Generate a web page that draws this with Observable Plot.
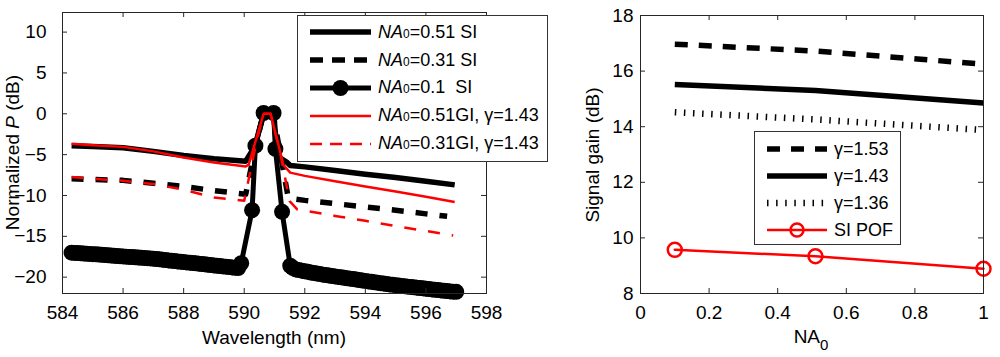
<!DOCTYPE html>
<html>
<head>
<meta charset="utf-8">
<script src="https://cdn.jsdelivr.net/npm/d3@7"></script>
<script src="https://cdn.jsdelivr.net/npm/@observablehq/plot@0.6"></script>
<style>
  html, body { margin: 0; padding: 0; background: #fff; }
  #wrap { position: relative; width: 1000px; height: 357px; overflow: hidden; font-family: 'Liberation Sans', Arial, sans-serif; }
  .panel { position: absolute; top: 0; }
  .legend { position: absolute; background: #fff; border: 1px solid #333; box-sizing: border-box; font-size: 18px; color: #000; }
  .row { display: flex; align-items: center; white-space: pre; }
  .row svg { flex: none; }
  sub.s { font-size: 12px; vertical-align: baseline; font-style: normal; }
</style>
</head>
<body>
<div id="wrap"></div>
<script>
// ---------- Left panel data: normalized power vs wavelength ----------
const xTicksL = [584, 586, 588, 590, 592, 594, 596, 598];
const yTicksL = [-20, -15, -10, -5, 0, 5, 10];

const wlSI051 = [584.3, 585, 586, 587, 588, 589, 590.05, 590.35, 590.64, 590.97, 591.1, 591.4, 591.52, 592, 593, 594, 595, 596, 596.95];
const pSI051  = [-3.9, -4.0, -4.15, -4.6, -5.1, -5.5, -5.8, -4.0, 0, 0, -5.2, -5.9, -6.33, -6.5, -6.95, -7.4, -7.8, -8.25, -8.7];

const wlSI031 = [584.3, 585, 586, 587, 588, 589, 590.05, 590.4, 590.64, 590.95, 591.15, 591.45, 591.7, 592, 593, 594, 595, 596, 596.7];
const pSI031  = [-7.95, -8.05, -8.15, -8.5, -8.9, -9.4, -9.85, -3.5, 0, 0, -4.0, -10.2, -10.45, -10.6, -11.0, -11.4, -11.8, -12.25, -12.55];

const wlSI01 = [
  584.3, 584.4, 584.5, 584.6, 584.7, 584.8, 584.9, 585.0, 585.1, 585.2, 585.3, 585.4, 585.5, 585.6, 585.7, 585.8, 585.9,
  586.0, 586.1, 586.2, 586.3, 586.4, 586.5, 586.6, 586.7, 586.8, 586.9, 587.0, 587.1, 587.2, 587.3, 587.4, 587.5, 587.6,
  587.7, 587.8, 587.9, 588.0, 588.1, 588.2, 588.3, 588.4, 588.5, 588.6, 588.7, 588.8, 588.9, 589.0, 589.1, 589.2, 589.3,
  589.4, 589.5, 589.6, 589.7, 589.8, 589.9,
  590.26, 590.37, 590.64, 590.97, 591.03, 591.25, 591.52,
  591.6, 591.7, 591.8, 591.9, 592.0, 592.1, 592.2, 592.3, 592.4, 592.5, 592.6, 592.7, 592.8, 592.9, 593.0, 593.1, 593.2,
  593.3, 593.4, 593.5, 593.6, 593.7, 593.8, 593.9, 594.0, 594.1, 594.2, 594.3, 594.4, 594.5, 594.6, 594.7, 594.8, 594.9,
  595.0, 595.1, 595.2, 595.3, 595.4, 595.5, 595.6, 595.7, 595.8, 595.9, 596.0, 596.1, 596.2, 596.3, 596.4, 596.5, 596.6,
  596.7, 596.8, 596.9, 597.0];
const pSI01 = [
  -17.0, -17.03, -17.05, -17.08, -17.1, -17.13, -17.16, -17.19, -17.21, -17.24, -17.27, -17.3, -17.32, -17.35, -17.38, -17.41, -17.43,
  -17.46, -17.49, -17.52, -17.54, -17.57, -17.6, -17.62, -17.65, -17.68, -17.7, -17.74, -17.78, -17.82, -17.86, -17.9, -17.95, -17.99,
  -18.03, -18.07, -18.11, -18.15, -18.19, -18.23, -18.27, -18.31, -18.35, -18.39, -18.43, -18.48, -18.52, -18.56, -18.6, -18.64, -18.68,
  -18.72, -18.77, -18.81, -18.85, -18.88, -18.3,
  -11.8, -3.9, 0.1, 0.1, -4.3, -12.0, -18.6,
  -18.85, -19.05, -19.12, -19.2, -19.28, -19.35, -19.43, -19.5, -19.56, -19.62, -19.69, -19.75, -19.8, -19.86, -19.91, -19.97, -20.02,
  -20.08, -20.13, -20.19, -20.24, -20.3, -20.35, -20.41, -20.46, -20.52, -20.57, -20.63, -20.68, -20.74, -20.79, -20.85, -20.89, -20.94,
  -20.98, -21.03, -21.07, -21.12, -21.16, -21.2, -21.25, -21.29, -21.33, -21.37, -21.42, -21.46, -21.5, -21.54, -21.58, -21.62, -21.66,
  -21.7, -21.74, -21.78, -21.8];

const wlGI051 = [584.3, 585, 586, 587, 588, 589, 590.05, 590.15, 590.64, 590.87, 591.3, 591.52, 592, 593, 594, 595, 596, 596.95];
const pGI051  = [-3.66, -3.85, -4.05, -4.6, -5.35, -5.95, -6.45, -6.2, 0, 0, -6.3, -7.2, -7.6, -8.25, -8.9, -9.5, -10.15, -10.8];

const wlGI031 = [584.3, 585, 586, 587, 588, 589, 590.0, 590.4, 590.64, 590.87, 591.2, 591.5, 591.75, 592, 593, 594, 595, 596, 596.9];
const pGI031  = [-7.75, -7.95, -8.2, -8.6, -9.3, -10.25, -10.65, -3.5, 0, 0, -5.0, -10.7, -11.7, -11.85, -12.5, -13.1, -13.75, -14.35, -14.9];

// ---------- Right panel data: signal gain vs NA0 ----------
const xTicksR = [0, 0.2, 0.4, 0.6, 0.8, 1];
const yTicksR = [8, 10, 12, 14, 16, 18];
const na0 = [0.1, 0.51, 1];
const gain153 = [16.97, 16.72, 16.25];
const gain143 = [15.52, 15.3, 14.85];
const gain136 = [14.52, 14.26, 13.88];
const gainSIPOF = [9.57, 9.34, 8.89];

// ---------- helpers ----------
const pts = (xs, ys) => xs.map((x, i) => ({x, y: ys[i]}));
const FONT = "'Liberation Sans', Arial, sans-serif";
const wrap = document.getElementById("wrap");

// ---------- Left plot ----------
const L = {width: 500, height: 357, mt: 12, mb: 64, ml: 62, mr: 14};
const LH = L.height - L.mt - L.mb, LW = L.width - L.ml - L.mr, TK = 5;
const left = Plot.plot({
  width: L.width, height: L.height,
  marginTop: L.mt, marginBottom: L.mb, marginLeft: L.ml, marginRight: L.mr,
  style: {fontFamily: FONT, fontSize: "19px", color: "#000", background: "transparent", overflow: "visible"},
  x: {domain: [584, 598]},
  y: {domain: [-22, 12.4]},
  marks: [
    Plot.line(pts(wlSI051, pSI051), {x: "x", y: "y", stroke: "#000", strokeWidth: 5.5, strokeLinecap: "butt", strokeLinejoin: "round"}),
    Plot.line(pts(wlSI031, pSI031), {x: "x", y: "y", stroke: "#000", strokeWidth: 5.5, strokeDasharray: "12,12", strokeLinecap: "butt", strokeLinejoin: "round"}),
    Plot.line(pts(wlSI01, pSI01), {x: "x", y: "y", stroke: "#000", strokeWidth: 5, strokeLinejoin: "round"}),
    Plot.dot(pts(wlSI01, pSI01), {x: "x", y: "y", r: 8, fill: "#000", stroke: "none"}),
    Plot.line(pts(wlGI051, pGI051), {x: "x", y: "y", stroke: "#ff0000", strokeWidth: 2.5, strokeLinecap: "butt", strokeLinejoin: "round"}),
    Plot.line(pts(wlGI031, pGI031), {x: "x", y: "y", stroke: "#ff0000", strokeWidth: 2.5, strokeDasharray: "12,12", strokeLinecap: "butt", strokeLinejoin: "round"}),
    Plot.frame({stroke: "#262626", strokeWidth: 1}),
    Plot.tickX(xTicksL, {x: d => d, insetTop: LH - TK, stroke: "#262626"}),
    Plot.tickX(xTicksL, {x: d => d, insetBottom: LH - TK, stroke: "#262626"}),
    Plot.tickY(yTicksL, {y: d => d, insetRight: LW - TK, stroke: "#262626"}),
    Plot.tickY(yTicksL, {y: d => d, insetLeft: LW - TK, stroke: "#262626"}),
    Plot.axisX(xTicksL, {tickSize: 0, tickPadding: 12, label: null, fontSize: 19}),
    Plot.axisY(yTicksL, {tickSize: 0, tickPadding: 16, label: null, fontSize: 19})
  ]
});
left.classList.add("panel");
left.style.left = "0px";
wrap.appendChild(left);
{
  const s = d3.select(left);
  const yl = s.append("text").attr("transform", "translate(19,152.5) rotate(-90)")
    .attr("text-anchor", "middle").attr("font-size", 19).attr("fill", "#000");
  yl.append("tspan").text("Normalized ");
  yl.append("tspan").attr("font-style", "italic").text("P");
  yl.append("tspan").text(" (dB)");
  s.append("text").attr("x", 274).attr("y", 344).attr("text-anchor", "middle")
    .attr("font-size", 19).attr("fill", "#000").text("Wavelength (nm)");
}

// ---------- Right plot ----------
const R = {left: 540, width: 460, height: 357, mt: 15, mb: 64, ml: 100, mr: 17};
const RH = R.height - R.mt - R.mb, RW = R.width - R.ml - R.mr;
const right = Plot.plot({
  width: R.width, height: R.height,
  marginTop: R.mt, marginBottom: R.mb, marginLeft: R.ml, marginRight: R.mr,
  style: {fontFamily: FONT, fontSize: "19px", color: "#000", background: "transparent", overflow: "visible"},
  x: {domain: [0, 1]},
  y: {domain: [8, 18]},
  marks: [
    Plot.line(pts(na0, gain153), {x: "x", y: "y", stroke: "#000", strokeWidth: 5.5, strokeDasharray: "13,11", strokeLinecap: "butt"}),
    Plot.line(pts(na0, gain143), {x: "x", y: "y", stroke: "#000", strokeWidth: 5.5, strokeLinecap: "butt"}),
    Plot.line(pts(na0, gain136), {x: "x", y: "y", stroke: "#000", strokeWidth: 6.5, strokeDasharray: "1.5,7.6", strokeLinecap: "butt"}),
    Plot.line(pts(na0, gainSIPOF), {x: "x", y: "y", stroke: "#ff0000", strokeWidth: 2.5}),
    Plot.dot(pts(na0, gainSIPOF), {x: "x", y: "y", r: 7, fill: "none", stroke: "#ff0000", strokeWidth: 2.5}),
    Plot.frame({stroke: "#262626", strokeWidth: 1}),
    Plot.tickX(xTicksR, {x: d => d, insetTop: RH - TK, stroke: "#262626"}),
    Plot.tickX(xTicksR, {x: d => d, insetBottom: RH - TK, stroke: "#262626"}),
    Plot.tickY(yTicksR, {y: d => d, insetRight: RW - TK, stroke: "#262626"}),
    Plot.tickY(yTicksR, {y: d => d, insetLeft: RW - TK, stroke: "#262626"}),
    Plot.axisX(xTicksR, {tickSize: 0, tickPadding: 12, label: null, fontSize: 19, tickFormat: d => String(d)}),
    Plot.axisY(yTicksR, {tickSize: 0, tickPadding: 7, label: null, fontSize: 19})
  ]
});
right.classList.add("panel");
right.style.left = R.left + "px";
wrap.appendChild(right);
{
  const s = d3.select(right);
  s.append("text").attr("transform", "translate(59,155) rotate(-90)")
    .attr("text-anchor", "middle").attr("font-size", 19).attr("fill", "#000").text("Signal gain (dB)");
  const xl = s.append("text").attr("x", 271).attr("y", 343).attr("text-anchor", "middle")
    .attr("font-size", 19).attr("fill", "#000");
  xl.append("tspan").text("NA");
  xl.append("tspan").attr("font-size", 15).attr("dy", 7).text("0");
}

// ---------- Legends ----------
const legendLeft = [
  {na: "=0.51 SI", stroke: "#000", w: 5.5, dash: null, marker: null},
  {na: "=0.31 SI", stroke: "#000", w: 5.5, dash: "13,9", marker: null},
  {na: "=0.1  SI", stroke: "#000", w: 5, dash: null, marker: "fill"},
  {na: "=0.51GI, γ=1.43", stroke: "#ff0000", w: 2.5, dash: null, marker: null},
  {na: "=0.31GI, γ=1.43", stroke: "#ff0000", w: 2.5, dash: "12,8", marker: null}
];
const legendRight = [
  {label: "γ=1.53", stroke: "#000", w: 5.5, dash: "13,11", marker: null},
  {label: "γ=1.43", stroke: "#000", w: 5.5, dash: null, marker: null},
  {label: "γ=1.36", stroke: "#000", w: 6.5, dash: "1.5,7.6", marker: null},
  {label: "SI POF", stroke: "#ff0000", w: 2.5, dash: null, marker: "open"}
];

function sample(it, sw) {
  const ns = "http://www.w3.org/2000/svg";
  const svg = document.createElementNS(ns, "svg");
  svg.setAttribute("width", sw); svg.setAttribute("height", 20);
  const ln = document.createElementNS(ns, "line");
  ln.setAttribute("x1", 0); ln.setAttribute("x2", sw); ln.setAttribute("y1", 10); ln.setAttribute("y2", 10);
  ln.setAttribute("stroke", it.stroke); ln.setAttribute("stroke-width", it.w);
  if (it.dash) ln.setAttribute("stroke-dasharray", it.dash);
  svg.appendChild(ln);
  if (it.marker) {
    const c = document.createElementNS(ns, "circle");
    c.setAttribute("cx", sw / 2); c.setAttribute("cy", 10);
    c.setAttribute("r", it.marker === "fill" ? 8 : 6.5);
    c.setAttribute("fill", it.marker === "fill" ? it.stroke : "none");
    c.setAttribute("stroke", it.stroke); c.setAttribute("stroke-width", it.marker === "fill" ? 0 : 2.5);
    svg.appendChild(c);
  }
  return svg;
}

function legend(items, box, rowH, padTop, sx, sw, tx, textFn) {
  const d = document.createElement("div");
  d.className = "legend";
  Object.assign(d.style, {left: box.x + "px", top: box.y + "px", width: box.w + "px", height: box.h + "px", paddingTop: padTop + "px"});
  for (const it of items) {
    const r = document.createElement("div");
    r.className = "row";
    r.style.height = rowH + "px";
    const sv = sample(it, sw);
    sv.style.marginLeft = sx + "px";
    sv.style.marginRight = (tx - sx - sw) + "px";
    r.appendChild(sv);
    const t = document.createElement("span");
    textFn(t, it);
    r.appendChild(t);
    d.appendChild(r);
  }
  wrap.appendChild(d);
}

legend(legendLeft, {x: 297, y: 15, w: 251, h: 147}, 27.8, 2.5, 12, 61, 80, (t, it) => {
  t.innerHTML = '<i>NA</i><sub class="s">0</sub>' + it.na;
});
legend(legendRight, {x: 754, y: 131, w: 147, h: 114}, 27, 3.5, 12, 60, 79, (t, it) => {
  t.textContent = it.label;
});
</script>
</body>
</html>
